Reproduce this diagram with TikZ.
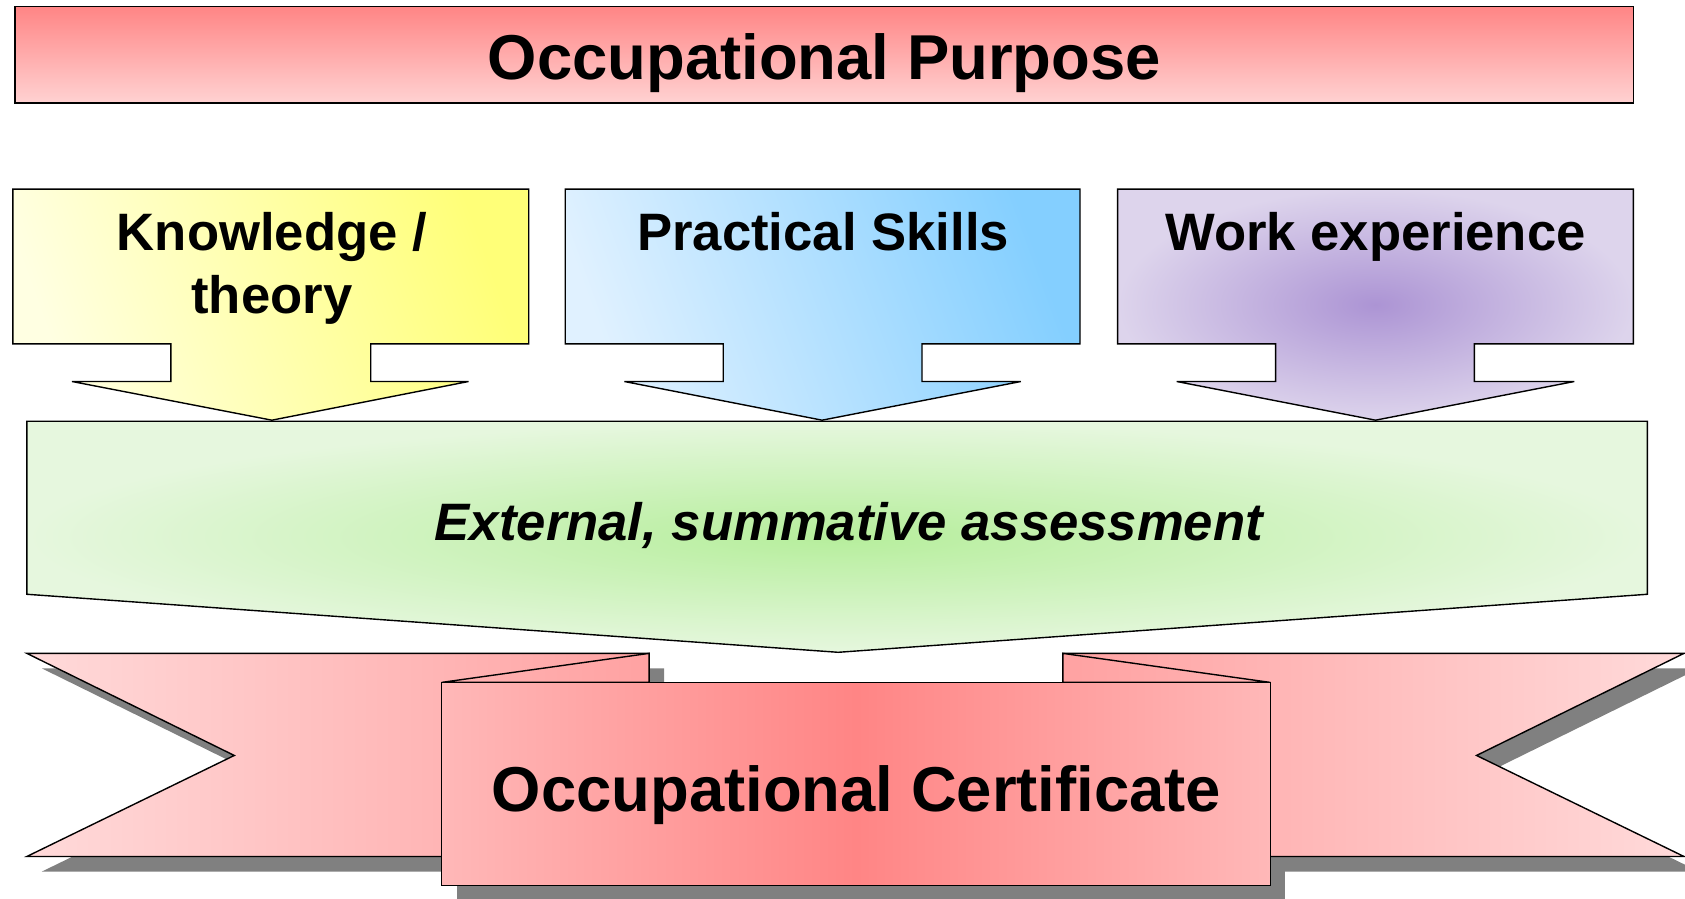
\documentclass[tikz,border=0pt]{standalone}
\usepackage{fontspec}
\setmainfont{Liberation Sans}
\definecolor{redA}{HTML}{FF8585}
\definecolor{redB}{HTML}{FFD2D2}
\definecolor{yelA}{HTML}{FFFFE2}
\definecolor{yelB}{HTML}{FFFF78}
\definecolor{bluA}{HTML}{E0F1FF}
\definecolor{bluB}{HTML}{84CFFF}
\definecolor{purA}{HTML}{AC94D4}
\definecolor{purB}{HTML}{DDD4EC}
\definecolor{grnA}{HTML}{B6EE9C}
\definecolor{grnB}{HTML}{E6F7DE}
\definecolor{pinkL}{HTML}{FFDADA}
\definecolor{pinkM}{HTML}{FFA2A2}
\definecolor{pinkE}{HTML}{FFB8B8}
\definecolor{pinkC}{HTML}{FF8585}
\definecolor{shad}{HTML}{808080}
\begin{document}
\begin{tikzpicture}[x=1pt,y=-1pt,
  outl/.style={draw=black, line width=1.3pt, line join=miter},
  shadowfill/.style={fill=shad, draw=none},
  bigtxt/.style={font=\fontsize{59}{70}\selectfont\bfseries, inner sep=0pt, anchor=base},
  midtxt/.style={font=\fontsize{49}{59}\selectfont\bfseries, inner sep=0pt, anchor=base, align=center}]
\useasboundingbox (0,0) rectangle (1568,836);

% top box
\path[outl, top color=redA, bottom color=redB] (14,6) rectangle (1520,96);
\node[bigtxt] (purpose) at (767,74) {Occupational Purpose};

% knowledge arrow
\path[outl, left color=yelA, right color=yelB, shading angle=110]
  (12,176) -- (492,176) -- (492,320) -- (345,320) -- (345,355) -- (436,355) -- (253,391)
  -- (67,355) -- (159,355) -- (159,320) -- (12,320) -- cycle;
\node[midtxt] (know) at (253,292) {Knowledge /\\theory};

% practical arrow
\path[outl, left color=bluA, right color=bluB, shading angle=110]
  (526,176) -- (1005,176) -- (1005,320) -- (858,320) -- (858,355) -- (950,355) -- (765,391)
  -- (581,355) -- (673,355) -- (673,320) -- (526,320) -- cycle;
\node[midtxt] (prac) at (766,233) {Practical Skills};

% work arrow
\path[outl, inner color=purA, outer color=purB]
  (1040,176) -- (1520,176) -- (1520,320) -- (1372,320) -- (1372,355) -- (1465,355) -- (1280,391)
  -- (1095,355) -- (1187,355) -- (1187,320) -- (1040,320) -- cycle;
\node[midtxt] (work) at (1280,233) {Work experience};

% shadows of ribbon
\begin{scope}[shift={(14,14)}]
  \path[shadowfill] (25,608) -- (604,608) -- (604,797) -- (25,797) -- (218,703) -- cycle;
  \path[shadowfill] (989,608) -- (1567,608) -- (1374,703) -- (1567,797) -- (989,797) -- cycle;
  \path[shadowfill] (411,635) rectangle (1182,824);
\end{scope}

% ribbon left piece
\path[outl, left color=pinkL, right color=pinkM]
  (25,608) -- (604,608) -- (604,797) -- (25,797) -- (218,703) -- cycle;
\path[outl, left color=pinkM!70!pinkL, right color=pinkM] (411,635) -- (604,608) -- (604,635) -- cycle;
% ribbon right piece
\path[outl, left color=pinkM, right color=pinkL]
  (989,608) -- (1567,608) -- (1374,703) -- (1567,797) -- (989,797) -- cycle;
\path[outl, left color=pinkM, right color=pinkM!70!pinkL] (989,608) -- (1182,635) -- (989,635) -- cycle;
% main ribbon rectangle
\path[outl, left color=pinkE, right color=pinkE, middle color=pinkC] (411,635) rectangle (1182,824);
\node[bigtxt] (cert) at (797,755) {Occupational Certificate};

% green assessment arrow
\path[outl, inner color=grnA, outer color=grnB]
  (25,392) -- (1533,392) -- (1533,553) -- (780,607) -- (25,553) -- cycle;
\node[midtxt, font=\fontsize{49}{59}\selectfont\bfseries\itshape] (assess) at (790,503) {External, summative assessment};
\end{tikzpicture}
\end{document}
